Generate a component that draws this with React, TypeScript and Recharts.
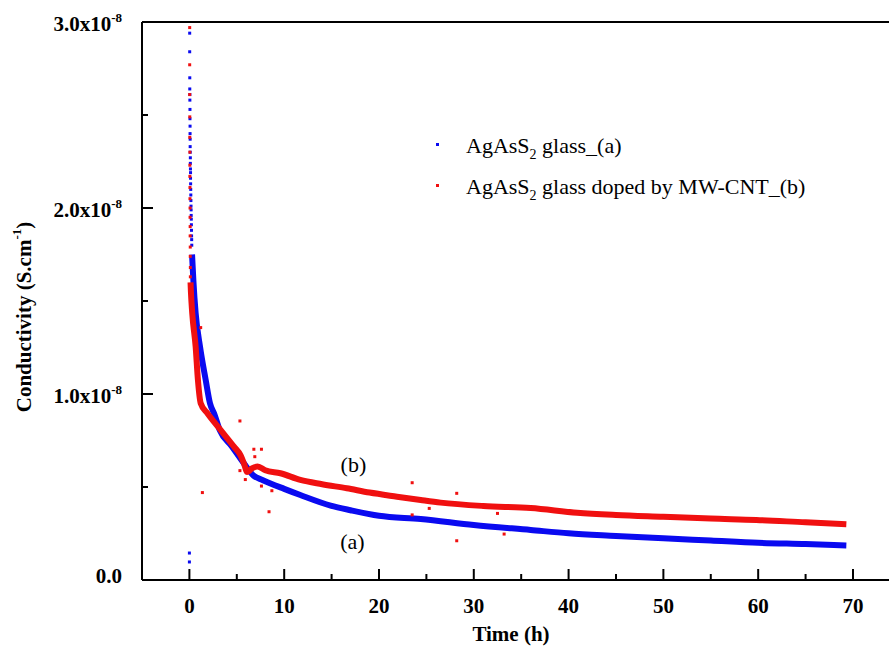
import {
  ComposedChart,
  Line,
  Scatter,
  XAxis,
  YAxis,
  Legend,
  ReferenceDot,
  ReferenceLine,
} from "recharts";

const FONT = '"Liberation Serif", "Times New Roman", serif';
const BLUE = "#0a0af0";
const RED = "#f01010";

// conductivity values are in units of 1e-8 S/cm, time in hours
const xTicks = [0, 5, 10, 15, 20, 25, 30, 35, 40, 45, 50, 55, 60, 65, 70];
const xMajor = [0, 10, 20, 30, 40, 50, 60, 70];
const yTicks = [0, 0.5, 1, 1.5, 2, 2.5, 3];
const yMajorLabels: Record<string, string> = { "0": "0.0", "1": "1.0", "2": "2.0", "3": "3.0" };

// (a) AgAsS2 glass - early readings near t = 0
const blueColT = [0.03, 0.03, 0.04, 0.04, 0.05, 0.05, 0.06, 0.06, 0.07, 0.07, 0.08, 0.08, 0.09, 0.1, 0.1, 0.11, 0.12, 0.12, 0.13, 0.14, 0.15, 0.16, 0.17, 0.18, 0.19, 0.2, 0.21, 0.22, 0.23, 0.24, 0.25, 0.0, 0.0];
const blueColV = [2.94, 2.84, 2.7, 2.64, 2.61, 2.58, 2.53, 2.48, 2.44, 2.4, 2.37, 2.33, 2.3, 2.27, 2.24, 2.21, 2.19, 2.16, 2.13, 2.1, 2.07, 2.04, 2.01, 1.99, 1.96, 1.94, 1.91, 1.88, 1.85, 1.83, 1.8, 0.145, 0.097];
// (a) main decay curve
const blueT = [0.28, 0.42, 0.66, 1.12, 1.72, 2.17, 2.6, 3.2, 4.5, 5.75, 6.8, 7.7, 10, 11.7, 14.9, 17, 20, 24.4, 30, 36, 40, 45, 50, 55, 60, 65, 69.3];
const blueV = [1.75, 1.61, 1.434, 1.254, 1.075, 0.95, 0.896, 0.806, 0.717, 0.627, 0.56, 0.538, 0.49, 0.457, 0.4, 0.375, 0.345, 0.328, 0.296, 0.269, 0.251, 0.237, 0.224, 0.212, 0.2, 0.193, 0.186];

// (b) AgAsS2 glass doped by MW-CNT - early readings near t = 0
const redColT = [0.03, 0.03, 0.03, 0.04, 0.04, 0.05, 0.05, 0.05, 0.06, 0.06, 0.07, 0.07, 0.08, 0.08, 0.09, 0.09, 0.1, 0.1];
const redColV = [2.97, 2.77, 2.61, 2.49, 2.38, 2.3, 2.23, 2.17, 2.11, 2.05, 2.0, 1.95, 1.9, 1.85, 1.79, 1.74, 1.68, 1.63];
// (b) main decay curve
const redT = [0.12, 0.16, 0.3, 0.66, 0.9, 1.19, 1.9, 3.3, 4.7, 5.4, 5.75, 6.1, 6.6, 7.2, 8, 9.6, 11.7, 14, 16.6, 19, 21.9, 24.4, 26.5, 31, 36, 40.9, 45, 50, 55, 59.8, 65, 69.3];
const redV = [1.6, 1.55, 1.434, 1.254, 1.075, 0.95, 0.896, 0.806, 0.717, 0.67, 0.627, 0.58, 0.6, 0.61, 0.59, 0.574, 0.538, 0.515, 0.493, 0.47, 0.448, 0.43, 0.416, 0.398, 0.387, 0.362, 0.35, 0.34, 0.33, 0.323, 0.31, 0.3];
// (b) scattered outliers
const redOutT = [1.19, 1.37, 5.33, 5.33, 5.9, 6.8, 6.9, 7.6, 7.6, 8.4, 8.7, 23.5, 23.5, 25.3, 28.2, 28.2, 32.5, 33.2];
const redOutV = [1.357, 0.47, 0.855, 0.588, 0.54, 0.703, 0.663, 0.703, 0.505, 0.367, 0.48, 0.523, 0.35, 0.385, 0.466, 0.211, 0.358, 0.247];

const legendLabels = [
  { pre: "AgAsS", sub: "2", post: " glass_(a)", color: BLUE },
  { pre: "AgAsS", sub: "2", post: " glass doped by MW-CNT_(b)", color: RED },
];

const toRows = (ts: number[], vs: number[]) => ts.map((t, i) => ({ t, v: vs[i] }));

const blueCol = toRows(blueColT, blueColV);
const blueCurve = toRows(blueT, blueV);
const redCol = toRows(redColT, redColV);
const redCurve = toRows(redT, redV);
const redOut = toRows(redOutT, redOutV);

const square = (color: string) => (props: any) => (
  <rect x={props.cx - 1.5} y={props.cy - 1.5} width={3} height={3} fill={color} />
);

const XTick = (props: any) => {
  const { x, y, payload } = props;
  const major = xMajor.includes(payload.value);
  return (
    <g>
      <line x1={x} x2={x} y1={y} y2={y - (major ? 11 : 6)} stroke="#000" strokeWidth={2} />
      {major && (
        <text x={x} y={y + 33} textAnchor="middle" fontFamily={FONT} fontWeight="bold" fontSize={21} fill="#000">
          {payload.value}
        </text>
      )}
    </g>
  );
};

const YTick = (props: any) => {
  const { x, y, payload } = props;
  const label = yMajorLabels[String(payload.value)];
  return (
    <g>
      <line x1={x} x2={x + (label ? 11 : 6)} y1={y} y2={y} stroke="#000" strokeWidth={2} />
      {label && (
        <text
          x={x - 20}
          y={payload.value === 0 ? y + 3 : y + 9}
          textAnchor="end"
          fontFamily={FONT}
          fontWeight="bold"
          fontSize={21}
          fill="#000"
        >
          {payload.value === 0 ? (
            label
          ) : (
            <>
              {label}x10
              <tspan dy={-9} fontSize={13}>
                -8
              </tspan>
            </>
          )}
        </text>
      )}
    </g>
  );
};

const renderLegend = () => (
  <div style={{ fontFamily: FONT, fontSize: 22, lineHeight: "38px", color: "#000" }}>
    {legendLabels.map((item) => (
      <div key={item.post} style={{ display: "flex", alignItems: "center", whiteSpace: "nowrap" }}>
        <span style={{ display: "inline-block", width: 3, height: 3, background: item.color, marginRight: 27, marginTop: -6 }} />
        <span>
          {item.pre}
          <span style={{ fontSize: 14, position: "relative", top: 6 }}>{item.sub}</span>
          {item.post}
        </span>
      </div>
    ))}
  </div>
);

export default function App() {
  return (
    <div style={{ position: "absolute", left: 0, top: 0, width: 889, height: 646, background: "#fff" }}>
      <ComposedChart width={889} height={646} margin={{ top: 22, right: 0, bottom: 26, left: 82 }}>
        <XAxis
          dataKey="t"
          type="number"
          domain={[-5, 73.8]}
          ticks={xTicks}
          tick={<XTick />}
          tickLine={false}
          tickSize={0}
          tickMargin={0}
          height={40}
          axisLine={{ stroke: "#000", strokeWidth: 2 }}
          allowDataOverflow
          label={{
            content: () => (
              <text x={511} y={641} textAnchor="middle" fontFamily={FONT} fontWeight="bold" fontSize={21} fill="#000">
                Time (h)
              </text>
            ),
          }}
        />
        <YAxis
          type="number"
          domain={[0, 3]}
          ticks={yTicks}
          tick={<YTick />}
          tickLine={false}
          tickSize={0}
          tickMargin={0}
          width={60}
          axisLine={{ stroke: "#000", strokeWidth: 2 }}
          allowDataOverflow
          label={{
            content: () => (
              <text
                x={24}
                y={317}
                transform="rotate(-90, 24, 317)"
                textAnchor="middle"
                dominantBaseline="central"
                fontFamily={FONT}
                fontWeight="bold"
                fontSize={21}
                fill="#000"
              >
                Conductivity (S.cm
                <tspan dy={-8} fontSize={13}>
                  -1
                </tspan>
                <tspan dy={8}>)</tspan>
              </text>
            ),
          }}
        />
        <ReferenceLine y={3} stroke="#000" strokeWidth={2} />
        <Line data={blueCurve} dataKey="v" type="monotone" stroke={BLUE} strokeWidth={6} dot={false} isAnimationActive={false} legendType="none" />
        <Line data={redCurve} dataKey="v" type="monotone" stroke={RED} strokeWidth={6} dot={false} isAnimationActive={false} legendType="none" />
        <Scatter data={blueCol} dataKey="v" shape={square(BLUE)} isAnimationActive={false} />
        <Scatter data={redCol} dataKey="v" shape={square(RED)} isAnimationActive={false} />
        <Scatter data={redOut} dataKey="v" shape={square(RED)} isAnimationActive={false} />
        <ReferenceDot x={17.3} y={0.62} r={0} label={{ value: "(b)", position: "center", fill: "#000", fontSize: 22, fontFamily: FONT }} />
        <ReferenceDot x={17.2} y={0.21} r={0} label={{ value: "(a)", position: "center", fill: "#000", fontSize: 22, fontFamily: FONT }} />
        <Legend
          layout="vertical"
          align="center"
          verticalAlign="middle"
          content={renderLegend}
          wrapperStyle={{ left: 436, top: 127, width: 420 }}
        />
      </ComposedChart>
    </div>
  );
}
